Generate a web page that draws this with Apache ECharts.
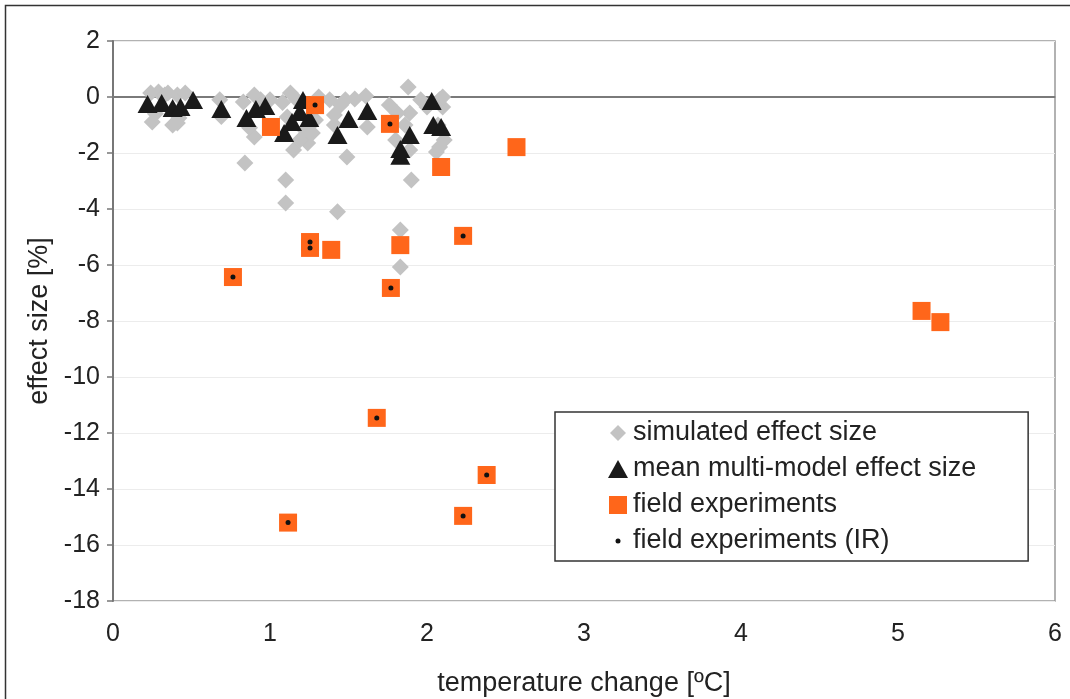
<!DOCTYPE html>
<html>
<head>
<meta charset="utf-8">
<script src="https://cdn.jsdelivr.net/npm/echarts@6/dist/echarts.min.js"></script>
<style>
html,body{margin:0;padding:0;background:#fff;}
#chart{width:1070px;height:699px;}
</style>
</head>
<body>
<div id="chart"></div>
<script>
// Tick settings
var xTicks = [0, 1, 2, 3, 4, 5, 6];
var yTicks = [-18, -16, -14, -12, -10, -8, -6, -4, -2, 0, 2];

// simulated effect size [temperature change, effect size]
var simulated = [
  [0.24,0.14],[0.25,-0.89],[0.29,0.18],[0.33,0.07],[0.35,0.14],[0.38,-1.0],[0.41,-0.93],[0.41,0.07],[0.46,0.14],[0.42,-0.75],[0.27,-0.6],
  [0.68,-0.1],[0.69,-0.7],
  [0.84,-2.36],[0.83,-0.18],[0.90,-1.43],[0.94,-0.1],[0.90,0.07],[1.0,-0.1],[0.87,-1.1],
  [1.10,-2.96],[1.10,-3.79],[1.13,0.14],[1.11,-0.71],[1.15,-1.89],[1.24,-1.64],[1.27,-1.29],[1.08,-0.2],[1.17,-0.1],[1.19,-1.54],[1.22,-1.18],[1.29,-0.82],[1.31,0.0],
  [1.45,-0.29],[1.49,-2.14],[1.43,-4.1],[1.62,-1.07],[1.41,-0.64],[1.48,-0.1],[1.54,-0.07],[1.61,0.04],[1.38,-0.1],[1.41,-1.0],
  [1.88,0.36],[1.89,-0.57],[1.81,-0.57],[1.90,-2.96],[2.0,-0.36],[2.06,-1.96],[2.10,-0.36],[2.08,-1.79],[1.83,-4.75],[1.83,-6.07],
  [1.86,-1.0],[1.80,-1.54],[1.89,-1.89],[1.76,-0.29],[1.96,-0.1],[2.08,-0.1],[2.10,0.0],[2.07,-1.0],[2.11,-1.54]
];

// mean multi-model effect size
var meanMultiModel = [
  [0.22,-0.25],[0.31,-0.21],[0.38,-0.39],[0.43,-0.36],[0.51,-0.11],[0.69,-0.43],
  [0.85,-0.75],[0.91,-0.43],[0.97,-0.32],[1.09,-1.29],[1.14,-0.89],[1.19,-0.54],[1.21,-0.11],[1.25,-0.75],
  [1.43,-1.36],[1.50,-0.79],[1.62,-0.5],[1.83,-2.1],[1.83,-1.86],[1.89,-1.36],[2.03,-0.14],[2.04,-1.0],[2.09,-1.07]
];

// field experiments
var fieldExperiments = [
  [1.006,-1.07],[1.287,-0.29],[1.764,-0.96],[2.09,-2.5],[2.57,-1.79],[1.255,-5.18],[1.255,-5.39],
  [1.39,-5.46],[1.83,-5.29],[0.764,-6.43],[1.77,-6.82],[2.23,-4.96],[1.68,-11.46],[1.115,-15.2],
  [2.23,-14.96],[2.38,-13.5],[5.15,-7.64],[5.27,-8.04]
];

// field experiments (IR)
var fieldExperimentsIR = [
  [1.287,-0.29],[1.764,-0.96],[1.255,-5.18],[1.255,-5.39],[0.764,-6.43],[1.77,-6.82],[2.23,-4.96],
  [1.68,-11.46],[1.115,-15.2],[2.23,-14.96],[2.38,-13.5]
];

var seriesNames = ['simulated effect size','mean multi-model effect size','field experiments','field experiments (IR)'];

var chart = echarts.init(document.getElementById('chart'), null, {renderer:'canvas'});
var font = '"Liberation Sans", Arial, sans-serif';
var option = {
  backgroundColor: '#ffffff',
  animation: false,
  textStyle: {fontFamily: font},
  graphic: [{
    type: 'rect', left: 3, top: 3, silent: true, z: -1,
    shape: {width: 1100, height: 720},
    style: {fill: 'none', stroke: '#333', lineWidth: 1.5}
  }],
  grid: {left: 113, right: 15, top: 41, bottom: 98, show: true, borderColor: '#999', borderWidth: 1.5, backgroundColor: 'transparent', containLabel: false, outerBoundsMode: 'none'},
  legend: {
    orient: 'vertical', left: 555, top: 412,
    padding: [6, 52, 5, 53],
    itemGap: 6, itemWidth: 20, itemHeight: 18,
    borderColor: '#333', borderWidth: 1.5, backgroundColor: '#fff',
    textStyle: {fontSize: 27, color: '#222', fontFamily: font, lineHeight: 30},
    data: [
      {name: seriesNames[0], icon: 'path://M0,0M20,18M10,1L18,9L10,17L2,9Z'},
      {name: seriesNames[1], icon: 'path://M0,0M20,18M10,0L20,18L0,18Z'},
      {name: seriesNames[2], icon: 'path://M0,0M20,18M1,0L19,0L19,18L1,18Z'},
      {name: seriesNames[3], icon: 'path://M0,0M20,18M10,6.5A2.5,2.5,0,1,1,10,11.5A2.5,2.5,0,1,1,10,6.5Z'}
    ]
  },
  xAxis: {
    type: 'value', min: xTicks[0], max: xTicks[xTicks.length-1], interval: 1,
    name: 'temperature change [ºC]', nameLocation: 'middle', nameGap: 69,
    nameTextStyle: {fontSize: 27, color: '#222', fontFamily: font},
    axisLine: {show: true, lineStyle: {color: '#888', width: 1.5}},
    axisTick: {show: false},
    axisLabel: {fontSize: 25, color: '#222', margin: 21, fontFamily: font},
    splitLine: {show: false}
  },
  yAxis: {
    type: 'value', min: yTicks[0], max: yTicks[yTicks.length-1], interval: 2,
    name: 'effect size [%]', nameLocation: 'middle', nameGap: 59,
    nameTextStyle: {fontSize: 27, color: '#222', fontFamily: font},
    axisLine: {show: true, lineStyle: {color: '#777', width: 2}},
    axisTick: {show: true, length: 6, lineStyle: {color: '#777', width: 1.5}},
    axisLabel: {fontSize: 25, color: '#222', margin: 13, fontFamily: font},
    splitLine: {show: true, lineStyle: {color: '#ececec', width: 1}}
  },
  series: [
    {
      name: seriesNames[0], type: 'scatter', data: simulated, symbol: 'diamond', symbolSize: 17, z: 2,
      itemStyle: {color: '#c3c3c3', opacity: 1},
      markLine: {
        silent: true, symbol: 'none', label: {show: false}, z: 1,
        lineStyle: {color: '#7a7a7a', width: 2, type: 'solid'},
        data: [{yAxis: 0}]
      }
    },
    {
      name: seriesNames[1], type: 'scatter', data: meanMultiModel, symbol: 'triangle', symbolSize: [20, 18], z: 3,
      itemStyle: {color: '#1a1a1a', opacity: 1}
    },
    {
      name: seriesNames[2], type: 'scatter', data: fieldExperiments, symbol: 'rect', symbolSize: 18, z: 4,
      itemStyle: {color: '#ff661a', opacity: 1}
    },
    {
      name: seriesNames[3], type: 'scatter', data: fieldExperimentsIR, symbol: 'circle', symbolSize: 5, z: 5,
      itemStyle: {color: '#111', opacity: 1}
    }
  ]
};
chart.setOption(option);
</script>
</body>
</html>
